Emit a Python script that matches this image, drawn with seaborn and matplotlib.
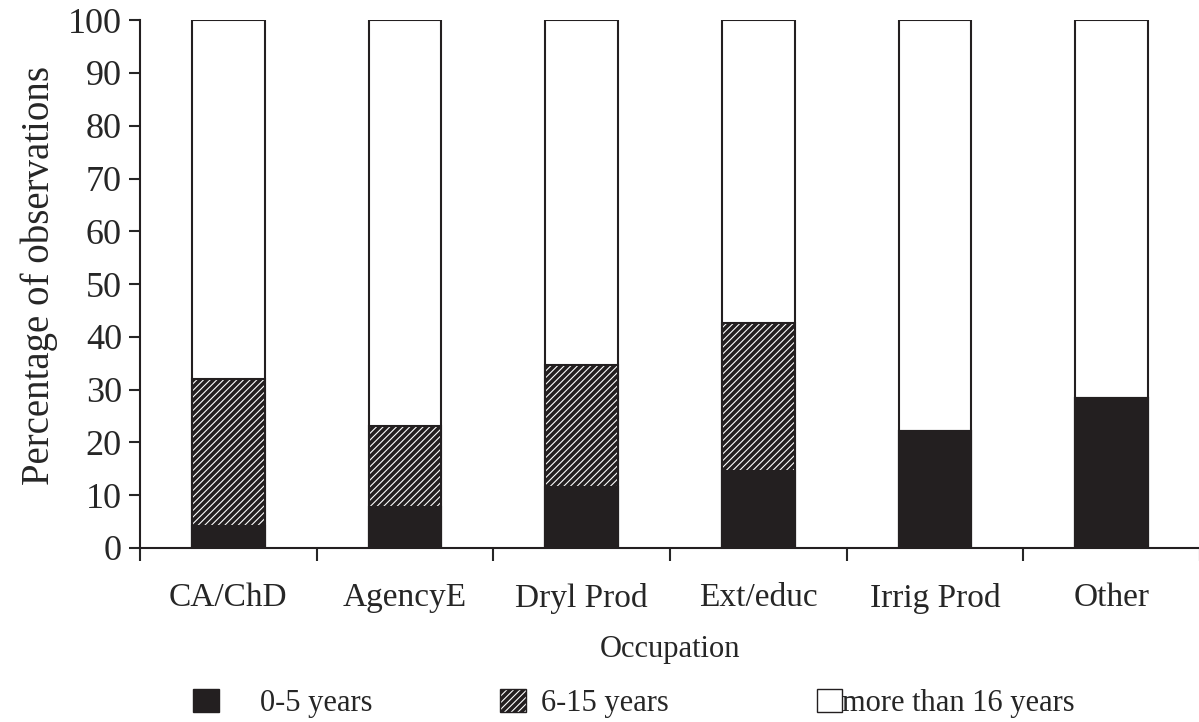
import numpy as np
import seaborn as sns
import matplotlib.pyplot as plt
from matplotlib.patches import Patch

occupations = ['CA/ChD', 'AgencyE', 'Dryl Prod', 'Ext/educ', 'Irrig Prod', 'Other']
years0to5 = [4.2, 7.8, 11.5, 14.5, 22.2, 28.5]
years6to15 = [27.8, 15.4, 23.1, 28.2, 0.0, 0.0]
seriesNames = ['0-5 years', '6-15 years', 'more than 16 years']

sns.set_style('ticks')
plt.rcParams['font.family'] = ['Liberation Serif', 'DejaVu Serif']
plt.rcParams['hatch.linewidth'] = 2.6
plt.rcParams['hatch.color'] = '#231f20'

black = '#231f20'
low = np.array(years0to5)
mid = low + np.array(years6to15)
full = np.full(len(occupations), 100.0)

fig = plt.figure(figsize=(11.99, 7.22), dpi=100)
ax = fig.add_axes([0.1168, 0.241, 0.884, 0.731])

# stacked bars drawn as overlapping cumulative totals
sns.barplot(x=occupations, y=full, color='white', edgecolor=black, linewidth=1.5,
            width=0.41, saturation=1, ax=ax)
sns.barplot(x=occupations, y=mid, color='white', edgecolor=black, linewidth=1.5,
            hatch='/////', width=0.41, saturation=1, ax=ax)
sns.barplot(x=occupations, y=low, color=black, edgecolor=black, linewidth=1.5,
            width=0.41, saturation=1, ax=ax)

ax.set_ylim(0, 100)
ax.set_xlim(-0.5, 5.5)
ax.set_yticks(range(0, 101, 10))
ax.tick_params(axis='y', labelsize=26, length=8, width=1.5, direction='out', pad=5)

# ticks on category boundaries, labels at centres
ax.set_xticks(np.arange(-0.5, 6.0, 1.0))
ax.set_xticklabels([])
ax.set_xticks(range(len(occupations)), minor=True)
ax.set_xticklabels(occupations, minor=True)
ax.tick_params(axis='x', which='major', length=9, width=1.5, direction='out')
ax.tick_params(axis='x', which='minor', length=0, labelsize=24, pad=25)

for side in ['top', 'right']:
    ax.spines[side].set_visible(False)
for side in ['left', 'bottom']:
    ax.spines[side].set_linewidth(1.5)
    ax.spines[side].set_color(black)

ax.set_xlabel('Occupation', fontsize=22, labelpad=15)
ax.set_ylabel('Percentage of observations', fontsize=28)
ax.yaxis.set_label_coords(-0.077, 0.517)

# legend entries spaced like the original (one small legend each)
handles = [Patch(facecolor=black, edgecolor=black),
           Patch(facecolor='white', edgecolor=black, hatch='/////'),
           Patch(facecolor='white', edgecolor=black)]
legendX = [0.161, 0.417, 0.681]
textPads = [1.35, 0.5, 0.0]
for h, name, lx, tp in zip(handles, seriesNames, legendX, textPads):
    fig.legend([h], [name], loc='center left', bbox_to_anchor=(lx, 0.026),
               frameon=False, fontsize=22, borderpad=0, borderaxespad=0,
               handlelength=0.85, handleheight=0.8, handletextpad=tp)

plt.savefig('out.png', dpi=100)
